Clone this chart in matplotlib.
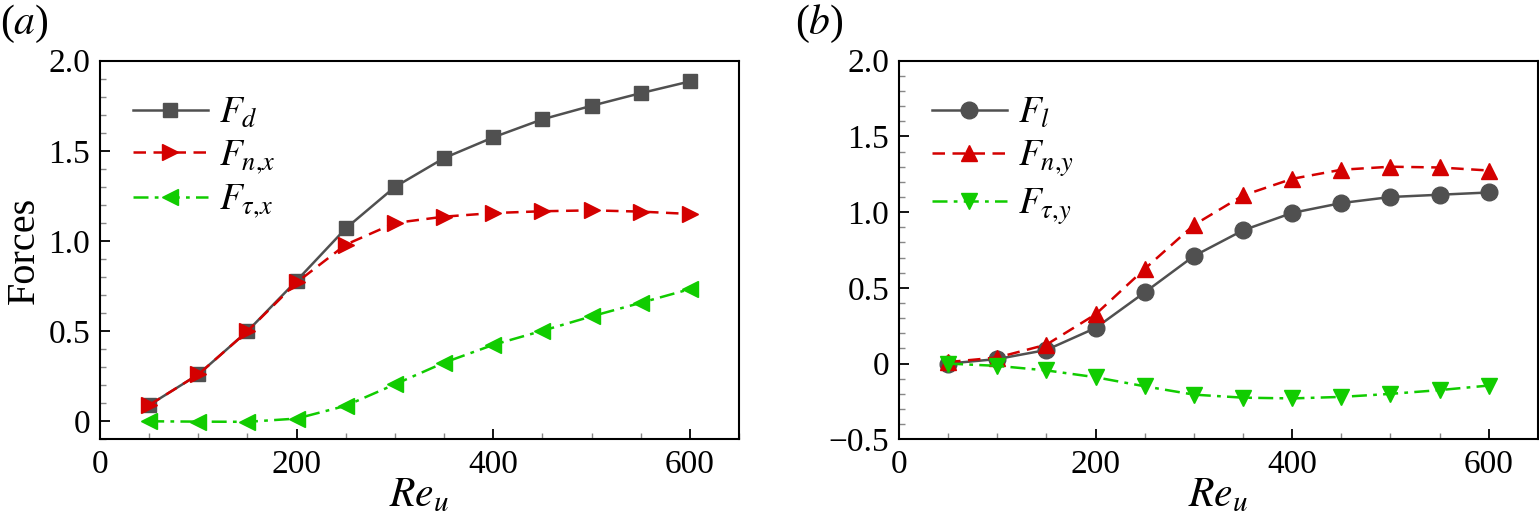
import numpy as np
import matplotlib
matplotlib.use("Agg")
import matplotlib.pyplot as plt
from matplotlib.ticker import MultipleLocator, FuncFormatter

plt.rcParams['font.family'] = ['Liberation Serif', 'DejaVu Serif']
plt.rcParams['mathtext.fontset'] = 'stix'

# data
re_u = [50, 100, 150, 200, 250, 300, 350, 400, 450, 500, 550, 600]

# (a) x-direction
f_d = [0.09, 0.26, 0.50, 0.78, 1.07, 1.30, 1.46, 1.575, 1.675, 1.75, 1.82, 1.885]
f_nx = [0.09, 0.26, 0.50, 0.77, 0.98, 1.10, 1.135, 1.155, 1.165, 1.17, 1.163, 1.15]
f_tx = [0.0, -0.002, -0.003, 0.015, 0.086, 0.205, 0.325, 0.424, 0.502, 0.582, 0.657, 0.733]

# (b) y-direction
f_l = [0.0, 0.03, 0.09, 0.235, 0.47, 0.71, 0.88, 0.995, 1.06, 1.10, 1.115, 1.13]
f_ny = [0.01, 0.04, 0.125, 0.325, 0.625, 0.915, 1.11, 1.22, 1.28, 1.30, 1.295, 1.275]
f_ty = [0.0, -0.015, -0.045, -0.09, -0.15, -0.205, -0.225, -0.23, -0.22, -0.2, -0.175, -0.145]

gray = '#505050'
red = '#d40000'
green = '#11cc00'


def yfmt(v, pos):
    if abs(v) < 1e-9:
        return '0'
    s = '%.1f' % v
    return s.replace('-', '\u2212')


def style_axes(ax, ylim):
    ax.set_xlim(0, 650)
    ax.set_ylim(*ylim)
    ax.xaxis.set_major_locator(MultipleLocator(200))
    ax.xaxis.set_minor_locator(MultipleLocator(50))
    ax.yaxis.set_major_locator(MultipleLocator(0.5))
    ax.yaxis.set_minor_locator(MultipleLocator(0.1))
    ax.yaxis.set_major_formatter(FuncFormatter(yfmt))
    ax.tick_params(which='major', direction='in', length=7, width=1.3,
                   labelsize=24, pad=7)
    ax.tick_params(which='minor', direction='in', length=4, width=1.0,
                   color='#888888')
    for sp in ax.spines.values():
        sp.set_linewidth(1.5)
    ax.set_xlabel('$Re_u$', fontsize=30, labelpad=-2)


fig = plt.figure(figsize=(15.39, 5.27), dpi=100)
ax1 = fig.add_axes([0.0650, 0.1664, 0.4152, 0.7184])
ax2 = fig.add_axes([0.5841, 0.1664, 0.4152, 0.7184])

lw = 1.8
ax1.plot(re_u, f_d, '-', color=gray, lw=lw, marker='s', ms=10.5, label='$F_d$')
ax1.plot(re_u, f_nx, '--', color=red, lw=lw, marker='>', ms=12, dashes=(5, 3),
         label='$F_{n{,}x}$')
ax1.plot(re_u, f_tx, '-.', color=green, lw=lw, marker='<', ms=12,
         dashes=(6, 2.5, 1.5, 2.5), label=r'$F_{\tau{,}x}$')
style_axes(ax1, (-0.1, 2.0))
ax1.set_ylabel('Forces', fontsize=29, labelpad=4)

ax2.plot(re_u, f_l, '-', color=gray, lw=lw, marker='o', ms=12, label='$F_l$')
ax2.plot(re_u, f_ny, '--', color=red, lw=lw, marker='^', ms=12, dashes=(5, 3),
         label='$F_{n{,}y}$')
ax2.plot(re_u, f_ty, '-.', color=green, lw=lw, marker='v', ms=12,
         dashes=(6, 2.5, 1.5, 2.5), label=r'$F_{\tau{,}y}$')
style_axes(ax2, (-0.5, 2.0))

for ax in (ax1, ax2):
    ax.legend(loc='upper left', bbox_to_anchor=(0.01, 0.975), frameon=False,
              fontsize=27, handlelength=2.0, handletextpad=0.3,
              labelspacing=0.2, borderaxespad=0.3)

fig.text(0.0, 0.995, '($a$)', fontsize=30, va='top', ha='left')
fig.text(0.5166, 0.995, '($b$)', fontsize=30, va='top', ha='left')

fig.savefig('out.png', dpi=100)
